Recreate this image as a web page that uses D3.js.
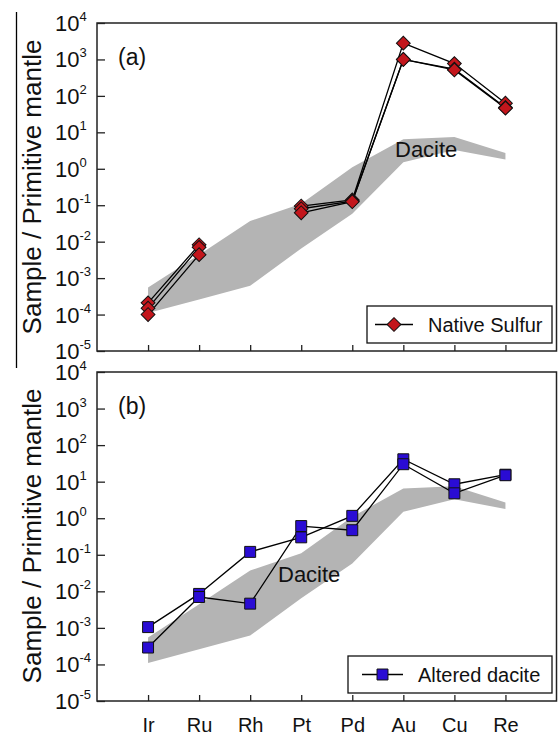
<!DOCTYPE html>
<html>
<head>
<meta charset="utf-8">
<script src="https://cdn.jsdelivr.net/npm/d3@7"></script>
<style>
  body { margin: 0; background: #fff; }
  svg { display: block; font-family: "Liberation Sans", Arial, sans-serif; }
</style>
</head>
<body>
<svg id="chart" width="558" height="737"></svg>
<script>
// elements on the x axis
var elements = ["Ir", "Ru", "Rh", "Pt", "Pd", "Au", "Cu", "Re"];
var decades = [-5, -4, -3, -2, -1, 0, 1, 2, 3, 4];

// dacite field (upper / lower limits)
var daciteUpper = [5.5e-4, 4.4e-3, 0.037, 0.11, 1.1, 6.5, 7.5, 2.7];
var daciteLower = [1.1e-4, 2.6e-4, 6.2e-4, 6.5e-3, 0.058, 1.5, 3.3, 1.8];

// native sulfur samples (no Rh data)
var sulfur1 = [2.1e-4, 8.2e-3, null, 0.095, 0.14, 2800, 770, 63];
var sulfur2 = [1.5e-4, 7.0e-3, null, 0.08, 0.13, 1000, 540, 48];
var sulfur3 = [1.0e-4, 4.4e-3, null, 0.062, 0.125, 1000, 515, 46];

// altered dacite samples
var altered1 = [1.05e-3, 8.5e-3, 0.12, 0.30, 1.16, 41, 8.5, 15.5];
var altered2 = [2.9e-4, 7.0e-3, 4.6e-3, 0.61, 0.47, 30, 4.8, 15];

var svg = d3.select("#chart");

// stray crop line on the left of the figure
svg.append("line")
    .attr("x1", 16.5).attr("x2", 16.5)
    .attr("y1", 12).attr("y2", 368)
    .style("stroke", "#000")
    .style("stroke-width", 1.3);

var x = d3.scaleLinear().domain([-1, 8]).range([97, 556.5]);

function drawPanel(top, bottom, label, samples, markerType, color, legendText, dacitePos, legendBox, showXLabels){
    var y = d3.scaleLog().domain([1e-5, 1e4]).range([bottom, top]);
    var g = svg.append("g");

    // dacite band
    var area = d3.area()
        .x(function(d, i){ return x(i); })
        .y0(function(d, i){ return y(daciteLower[i]); })
        .y1(function(d){ return y(d); });
    g.append("path")
        .datum(daciteUpper)
        .attr("d", area)
        .style("fill", "#b4b4b4")
        .style("stroke", "none");

    g.append("text")
        .attr("x", dacitePos[0])
        .attr("y", dacitePos[1])
        .attr("font-size", "22px")
        .attr("fill", "#111")
        .text("Dacite");

    // frame
    g.append("rect")
        .attr("x", x(-1))
        .attr("y", top)
        .attr("width", x(8) - x(-1))
        .attr("height", bottom - top)
        .style("fill", "none")
        .style("stroke", "#222")
        .style("stroke-width", 1.5);

    // y axis ticks (inward)
    var yAxis = d3.axisLeft(y)
        .tickValues(decades.map(function(p){ return Math.pow(10, p); }))
        .tickSizeInner(-8)
        .tickSizeOuter(0)
        .tickFormat("");
    var ya = g.append("g")
        .attr("transform", "translate(" + x(-1) + ",0)")
        .call(yAxis);
    ya.select(".domain").remove();
    ya.selectAll("line").style("stroke", "#222").style("stroke-width", 1.3);

    // y tick labels 10^n
    var lab = g.selectAll(".ylab")
        .data(decades)
        .enter()
        .append("text")
        .attr("class", "ylab")
        .attr("x", 55)
        .attr("y", function(d){ return y(Math.pow(10, d)) + 8; })
        .attr("fill", "#111");
    lab.append("tspan")
        .attr("font-size", "22px")
        .text("10");
    lab.append("tspan")
        .attr("font-size", "13px")
        .attr("dy", -10)
        .text(function(d){ return d; });

    // x axis ticks (inward)
    var xAxis = d3.axisBottom(x)
        .tickValues(d3.range(elements.length))
        .tickSizeInner(-6)
        .tickSizeOuter(0)
        .tickFormat(function(d){ return showXLabels ? elements[d] : ""; });
    var xa = g.append("g")
        .attr("transform", "translate(0," + bottom + ")")
        .call(xAxis);
    xa.select(".domain").remove();
    xa.selectAll("line").style("stroke", "#222").style("stroke-width", 1.3);
    xa.selectAll("text")
        .attr("y", 31)
        .attr("dy", 0)
        .attr("font-size", "20px")
        .attr("font-family", "Liberation Sans, Arial, sans-serif")
        .attr("fill", "#111");

    // y axis title
    g.append("text")
        .attr("transform", "translate(41," + (top + 164) + ") rotate(-90)")
        .attr("text-anchor", "middle")
        .attr("font-size", "26px")
        .attr("fill", "#111")
        .text("Sample / Primitive mantle");

    // panel label
    g.append("text")
        .attr("x", 118)
        .attr("y", top + 42)
        .attr("font-size", "23px")
        .attr("fill", "#111")
        .text(label);

    // sample lines
    var line = d3.line()
        .defined(function(d){ return d != null; })
        .x(function(d, i){ return x(i); })
        .y(function(d){ return y(d); });

    g.selectAll(".sample")
        .data(samples)
        .enter()
        .append("path")
        .attr("class", "sample")
        .attr("d", line)
        .style("fill", "none")
        .style("stroke", "#000")
        .style("stroke-width", 1.3);

    var sym = markerType == "diamond" ?
        d3.symbol().type(d3.symbolSquare).size(95) :
        d3.symbol().type(d3.symbolSquare).size(120);
    var rot = markerType == "diamond" ? " rotate(45)" : "";

    samples.forEach(function(s){
        g.selectAll(null)
            .data(s.map(function(v, i){ return {v: v, i: i}; }).filter(function(d){ return d.v != null; }))
            .enter()
            .append("path")
            .attr("d", sym)
            .attr("transform", function(d){
                return "translate(" + x(d.i) + "," + y(d.v) + ")" + rot;
            })
            .style("fill", color)
            .style("stroke", "#111")
            .style("stroke-width", 1);
    });

    // legend
    var lg = g.append("g");
    lg.append("rect")
        .attr("x", legendBox[0])
        .attr("y", legendBox[1])
        .attr("width", legendBox[2])
        .attr("height", legendBox[3])
        .style("fill", "#fff")
        .style("stroke", "#111")
        .style("stroke-width", 1.3);
    var cy = legendBox[1] + legendBox[3] / 2;
    lg.append("line")
        .attr("x1", legendBox[0] + legendBox[4])
        .attr("x2", legendBox[0] + legendBox[4] + legendBox[5])
        .attr("y1", cy).attr("y2", cy)
        .style("stroke", "#000")
        .style("stroke-width", 1.3);
    lg.append("path")
        .attr("d", sym)
        .attr("transform", "translate(" + (legendBox[0] + legendBox[4] + legendBox[5] / 2) + "," + cy + ")" + rot)
        .style("fill", color)
        .style("stroke", "#111")
        .style("stroke-width", 1);
    lg.append("text")
        .attr("x", legendBox[0] + legendBox[6])
        .attr("y", cy + 7)
        .attr("font-size", "20px")
        .attr("fill", "#111")
        .text(legendText);
}

drawPanel(23, 351, "(a)", [sulfur1, sulfur2, sulfur3], "diamond", "#c3161c",
    "Native Sulfur", [395, 157], [367, 306, 185, 37, 8, 38, 61], false);

drawPanel(372, 701, "(b)", [altered1, altered2], "square", "#2a0cd4",
    "Altered dacite", [278, 582], [348, 656, 204, 37, 14, 41, 70], true);
</script>
</body>
</html>
